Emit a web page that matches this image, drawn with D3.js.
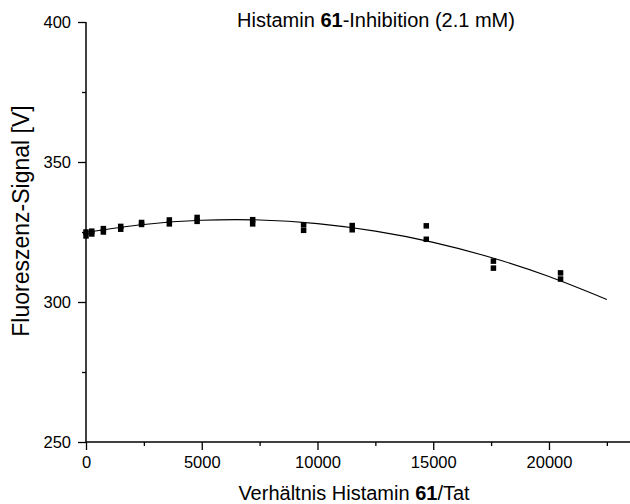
<!DOCTYPE html>
<html>
<head>
<meta charset="utf-8">
<script src="https://cdn.jsdelivr.net/npm/d3@7"></script>
<style>
  html, body { margin: 0; padding: 0; background: #fff; }
  svg { display: block; }
  text { font-family: Arial, "Liberation Sans", sans-serif; fill: #000; }
</style>
</head>
<body>
<svg id="chart" width="630" height="504"></svg>
<script>
// ---- data ----
const ratios = [0, 250, 750, 1500, 2400, 3600, 4800, 7200, 9400, 11500, 14700, 17600, 20500];
const signalRep1 = [325.0, 325.3, 326.2, 327.0, 328.4, 329.3, 330.2, 329.4, 327.6, 327.3, 327.2, 314.6, 310.4];
const signalRep2 = [323.6, 324.3, 325.0, 326.0, 327.7, 327.9, 328.8, 327.9, 325.6, 325.8, 322.4, 312.1, 308.2];
const fitX = [0, 2500, 5000, 7500, 10000, 12500, 15000, 17500, 20000, 22500];
const fitY = [324.9, 327.7, 329.2, 329.3, 328.0, 325.3, 321.3, 315.9, 309.1, 300.9];
const xMajorTicks = [0, 5000, 10000, 15000, 20000];
const xMinorTicks = [2500, 7500, 12500, 17500, 22500];
const yMajorTicks = [250, 300, 350, 400];
const yMinorTicks = [275, 325, 375];

const svg = d3.select("#chart");
const x = d3.scaleLinear().domain([0, 23500]).range([86, 630]);
const y = d3.scaleLinear().domain([250, 400]).range([442, 22]);

// axes
const xAxis = d3.axisBottom(x).tickValues(xMajorTicks).tickSize(8).tickPadding(6).tickFormat(d3.format("d"));
const xAxisMinor = d3.axisBottom(x).tickValues(xMinorTicks).tickSize(4).tickFormat("");
const yAxis = d3.axisLeft(y).tickValues(yMajorTicks).tickSize(8).tickPadding(7).tickFormat(d3.format("d"));
const yAxisMinor = d3.axisLeft(y).tickValues(yMinorTicks).tickSize(4).tickFormat("");

function style(g) {
  g.select(".domain").attr("stroke", "#000").attr("stroke-width", 1.5);
  g.selectAll(".tick line").attr("stroke", "#000").attr("stroke-width", 1.3);
  g.selectAll(".tick text").attr("font-size", 16.5).attr("font-family", "Arial, 'Liberation Sans', sans-serif");
}

svg.append("g").attr("transform", `translate(0,${y(250)})`).call(xAxis).call(style).call(g => g.select(".domain").attr("d", `M${x(0)},0H630`));
svg.append("g").attr("transform", `translate(0,${y(250)})`).call(xAxisMinor).call(style).call(g => g.select(".domain").remove());
svg.append("g").attr("transform", `translate(${x(0)},0)`).call(yAxis).call(style).call(g => g.select(".domain").attr("d", `M0,${y(400)}V${y(250)}`));
svg.append("g").attr("transform", `translate(${x(0)},0)`).call(yAxisMinor).call(style).call(g => g.select(".domain").remove());

// fit curve
const line = d3.line().x((d, i) => x(fitX[i])).y(d => y(d)).curve(d3.curveNatural);
svg.append("path").datum(fitY).attr("d", line).attr("fill", "none").attr("stroke", "#000").attr("stroke-width", 1.1);

// points
const s = 5.5;
[signalRep1, signalRep2].forEach(rep => {
  svg.append("g").selectAll("rect").data(rep).join("rect")
    .attr("x", (d, i) => x(ratios[i]) - s / 2)
    .attr("y", d => y(d) - s / 2)
    .attr("width", s).attr("height", s)
    .attr("fill", "#000");
});

// titles
const title = svg.append("text").attr("x", 376).attr("y", 27).attr("text-anchor", "middle").attr("font-size", 20);
title.append("tspan").text("Histamin ");
title.append("tspan").attr("font-weight", "bold").text("61");
title.append("tspan").text("-Inhibition (2.1 mM)");

const xt = svg.append("text").attr("x", 354).attr("y", 500).attr("text-anchor", "middle").attr("font-size", 20);
xt.append("tspan").text("Verhältnis Histamin ");
xt.append("tspan").attr("font-weight", "bold").text("61");
xt.append("tspan").text("/Tat");

svg.append("text").attr("transform", "translate(29,221) rotate(-90)").attr("text-anchor", "middle").attr("font-size", 23)
  .text("Fluoreszenz-Signal [V]");
</script>
</body>
</html>
